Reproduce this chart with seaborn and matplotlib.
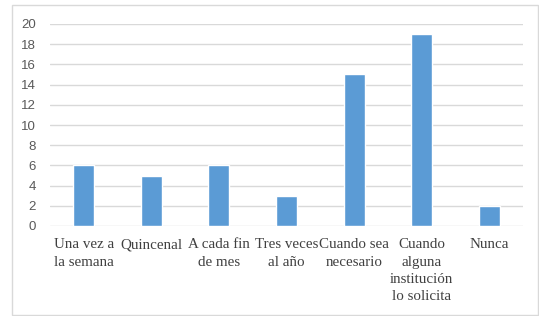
import matplotlib
matplotlib.use("Agg")
import matplotlib.pyplot as plt
import seaborn as sns
import pandas as pd
from matplotlib.patches import Rectangle

categories = ["Una vez a\nla semana", "Quincenal", "A cada fin\nde mes", "Tres veces\nal año",
              "Cuando sea\nnecesario", "Cuando\nalguna\ninstitución\nlo solicita", "Nunca"]
values = [6, 5, 6, 3, 15, 19, 2]
y_ticks = list(range(0, 21, 2))

df = pd.DataFrame({"cat": categories, "val": values})

sns.set_theme(style="white")
plt.rcParams['font.family'] = ['Liberation Sans', 'DejaVu Sans']

fig = plt.figure(figsize=(5.39, 3.16), dpi=100)
ax = fig.add_axes([50/539, 1 - 226/316, (523-50)/539, (226-24)/316])

sns.barplot(data=df, x="cat", y="val", color="#5B9BD5", saturation=1,
            width=0.31, ax=ax, zorder=3)

ax.set_ylim(0, 20)
ax.set_yticks(y_ticks)
ax.set_yticklabels([str(t) for t in y_ticks], fontsize=9.5, color="#595959")
ax.yaxis.grid(True, color="#D9D9D9", linewidth=1, zorder=0)
ax.set_axisbelow(True)
ax.tick_params(axis="y", length=0, pad=10)
ax.tick_params(axis="x", length=0, pad=9)
for lab in ax.get_xticklabels():
    lab.set_family("Liberation Serif")
    lab.set_fontsize(10.8)
    lab.set_color("#404040")
    lab.set_linespacing(1.42)
for s in ax.spines.values():
    s.set_visible(False)
ax.set_xlabel("")
ax.set_ylabel("")

# outer chart border
fig.patches.append(Rectangle((12/539, 1/316), 1 - 12/539 - 1/539, 1 - 5/316 - 1/316,
                             transform=fig.transFigure, fill=False,
                             edgecolor="#D9D9D9", linewidth=1))

fig.savefig("out.png", dpi=100)
